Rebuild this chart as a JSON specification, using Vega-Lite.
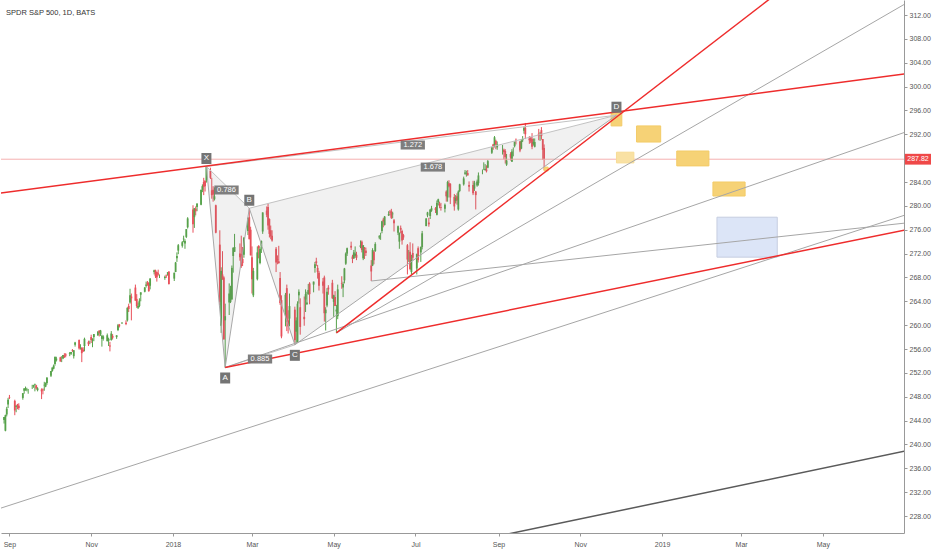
{
"$schema": "https://vega.github.io/schema/vega-lite/v6.json",
"width": 932, "height": 550,
"autosize": {"type": "fit", "contains": "padding"},
"padding": {"left": 0, "top": 0, "right": 0, "bottom": 3},
"background": "#ffffff",
"config": {"view": {"stroke": null}, "font": "Liberation Sans", "axis": {"grid": false, "labelFont": "Liberation Sans", "labelFontSize": 7, "labelColor": "#555555", "tickSize": 3, "tickColor": "#999999", "domainColor": "#999999", "labelOverlap": false, "labelBound": false}},
"title": {"text": "SPDR S&P 500, 1D, BATS", "anchor": "start", "frame": "group", "offset": -12, "dy": 8, "baseline": "middle", "dx": 5, "fontSize": 7.5, "fontWeight": "normal", "color": "#333333", "font": "Liberation Sans"},
"datasets": {
"candles": [
{"t":"2017-08-28","o":244.1,"h":244.6,"l":243.5,"c":244.6},
{"t":"2017-08-29","o":242.3,"h":245.0,"l":242.2,"c":244.9},
{"t":"2017-08-30","o":245.0,"h":246.3,"l":244.7,"c":246.0},
{"t":"2017-08-31","o":246.7,"h":247.8,"l":246.1,"c":247.5},
{"t":"2017-09-01","o":247.9,"h":248.3,"l":247.6,"c":247.8},
{"t":"2017-09-05","o":247.3,"h":247.5,"l":244.9,"c":245.7},
{"t":"2017-09-06","o":246.3,"h":246.6,"l":245.4,"c":246.5},
{"t":"2017-09-07","o":246.7,"h":246.8,"l":245.9,"c":246.5},
{"t":"2017-09-08","o":246.5,"h":246.9,"l":245.8,"c":246.1},
{"t":"2017-09-11","o":247.8,"h":248.6,"l":247.5,"c":248.6},
{"t":"2017-09-12","o":249.0,"h":249.4,"l":248.5,"c":249.4},
{"t":"2017-09-13","o":249.2,"h":249.7,"l":249.0,"c":249.4},
{"t":"2017-09-14","o":249.1,"h":249.5,"l":248.9,"c":249.2},
{"t":"2017-09-15","o":249.2,"h":249.3,"l":248.5,"c":249.2},
{"t":"2017-09-18","o":249.6,"h":250.0,"l":249.3,"c":249.6},
{"t":"2017-09-19","o":249.8,"h":250.0,"l":249.5,"c":249.9},
{"t":"2017-09-20","o":250.0,"h":250.2,"l":248.9,"c":250.1},
{"t":"2017-09-21","o":249.9,"h":250.0,"l":249.2,"c":249.4},
{"t":"2017-09-22","o":249.1,"h":249.6,"l":248.9,"c":249.4},
{"t":"2017-09-25","o":249.2,"h":249.4,"l":247.6,"c":248.9},
{"t":"2017-09-26","o":249.2,"h":249.4,"l":248.4,"c":249.1},
{"t":"2017-09-27","o":249.9,"h":250.5,"l":249.0,"c":250.0},
{"t":"2017-09-28","o":249.7,"h":250.4,"l":249.6,"c":250.3},
{"t":"2017-09-29","o":250.3,"h":251.3,"l":250.0,"c":251.2},
{"t":"2017-10-02","o":251.5,"h":252.3,"l":251.3,"c":252.3},
{"t":"2017-10-03","o":252.3,"h":252.9,"l":252.2,"c":252.9},
{"t":"2017-10-04","o":252.7,"h":253.4,"l":252.6,"c":253.2},
{"t":"2017-10-05","o":253.5,"h":254.7,"l":253.2,"c":254.7},
{"t":"2017-10-06","o":254.1,"h":254.7,"l":253.9,"c":254.4},
{"t":"2017-10-09","o":254.6,"h":254.7,"l":253.9,"c":253.9},
{"t":"2017-10-10","o":254.6,"h":254.8,"l":253.8,"c":254.6},
{"t":"2017-10-11","o":254.4,"h":255.0,"l":254.3,"c":255.0},
{"t":"2017-10-12","o":254.9,"h":255.3,"l":254.5,"c":254.6},
{"t":"2017-10-13","o":255.1,"h":255.3,"l":254.6,"c":254.9},
{"t":"2017-10-16","o":255.2,"h":255.5,"l":254.8,"c":255.3},
{"t":"2017-10-17","o":255.2,"h":255.5,"l":255.0,"c":255.5},
{"t":"2017-10-18","o":255.8,"h":256.0,"l":255.5,"c":255.7},
{"t":"2017-10-19","o":254.8,"h":255.8,"l":254.4,"c":255.8},
{"t":"2017-10-20","o":256.7,"h":257.2,"l":256.4,"c":257.1},
{"t":"2017-10-23","o":257.5,"h":257.6,"l":255.9,"c":256.1},
{"t":"2017-10-24","o":256.6,"h":256.8,"l":255.9,"c":256.6},
{"t":"2017-10-25","o":256.2,"h":256.3,"l":253.8,"c":255.3},
{"t":"2017-10-26","o":255.9,"h":256.3,"l":255.5,"c":255.6},
{"t":"2017-10-27","o":256.5,"h":257.9,"l":255.6,"c":257.7},
{"t":"2017-10-30","o":257.2,"h":257.4,"l":256.5,"c":256.8},
{"t":"2017-10-31","o":257.2,"h":257.4,"l":256.8,"c":257.2},
{"t":"2017-11-01","o":258.0,"h":258.4,"l":257.0,"c":257.5},
{"t":"2017-11-02","o":257.4,"h":257.8,"l":256.3,"c":257.6},
{"t":"2017-11-03","o":258.0,"h":258.5,"l":257.3,"c":258.5},
{"t":"2017-11-06","o":258.3,"h":259.0,"l":258.2,"c":258.9},
{"t":"2017-11-07","o":259.1,"h":259.1,"l":258.1,"c":258.7},
{"t":"2017-11-08","o":258.5,"h":259.2,"l":258.2,"c":259.1},
{"t":"2017-11-09","o":257.7,"h":258.4,"l":256.4,"c":258.2},
{"t":"2017-11-10","o":257.7,"h":258.3,"l":257.4,"c":258.1},
{"t":"2017-11-13","o":257.3,"h":258.6,"l":257.3,"c":258.3},
{"t":"2017-11-14","o":257.4,"h":257.9,"l":256.5,"c":257.7},
{"t":"2017-11-15","o":256.6,"h":257.2,"l":255.6,"c":256.4},
{"t":"2017-11-16","o":257.5,"h":259.0,"l":257.4,"c":258.6},
{"t":"2017-11-17","o":258.2,"h":258.5,"l":257.6,"c":257.9},
{"t":"2017-11-20","o":258.0,"h":258.3,"l":257.7,"c":258.3},
{"t":"2017-11-21","o":259.2,"h":260.2,"l":259.0,"c":260.0},
{"t":"2017-11-22","o":260.1,"h":260.2,"l":259.6,"c":259.8},
{"t":"2017-11-24","o":260.3,"h":260.5,"l":260.2,"c":260.4},
{"t":"2017-11-27","o":260.4,"h":260.8,"l":260.0,"c":260.2},
{"t":"2017-11-28","o":260.8,"h":263.0,"l":260.6,"c":262.9},
{"t":"2017-11-29","o":263.2,"h":263.6,"l":262.2,"c":262.7},
{"t":"2017-11-30","o":263.8,"h":266.1,"l":263.6,"c":265.0},
{"t":"2017-12-01","o":264.8,"h":265.3,"l":260.8,"c":264.5},
{"t":"2017-12-04","o":266.3,"h":266.8,"l":264.1,"c":264.1},
{"t":"2017-12-05","o":264.4,"h":265.2,"l":262.9,"c":263.2},
{"t":"2017-12-06","o":262.9,"h":263.8,"l":262.7,"c":263.2},
{"t":"2017-12-07","o":263.2,"h":264.5,"l":263.0,"c":264.1},
{"t":"2017-12-08","o":265.1,"h":265.5,"l":264.0,"c":265.5},
{"t":"2017-12-11","o":265.6,"h":266.4,"l":265.5,"c":266.3},
{"t":"2017-12-12","o":266.6,"h":267.3,"l":266.3,"c":266.8},
{"t":"2017-12-13","o":267.1,"h":267.4,"l":266.6,"c":266.8},
{"t":"2017-12-14","o":267.1,"h":267.2,"l":265.6,"c":265.7},
{"t":"2017-12-15","o":266.6,"h":267.9,"l":266.0,"c":267.8},
{"t":"2017-12-18","o":268.9,"h":269.3,"l":268.5,"c":269.2},
{"t":"2017-12-19","o":269.2,"h":269.3,"l":267.9,"c":268.2},
{"t":"2017-12-20","o":268.9,"h":269.0,"l":267.3,"c":268.0},
{"t":"2017-12-21","o":268.7,"h":269.3,"l":268.3,"c":268.5},
{"t":"2017-12-22","o":268.4,"h":268.5,"l":267.9,"c":268.4},
{"t":"2017-12-26","o":267.9,"h":268.3,"l":267.6,"c":268.1},
{"t":"2017-12-27","o":268.3,"h":268.5,"l":267.9,"c":268.2},
{"t":"2017-12-28","o":268.7,"h":268.9,"l":268.3,"c":268.8},
{"t":"2017-12-29","o":269.0,"h":269.0,"l":266.8,"c":266.9},
{"t":"2018-01-02","o":267.8,"h":268.8,"l":267.4,"c":268.8},
{"t":"2018-01-03","o":268.9,"h":270.6,"l":268.9,"c":270.5},
{"t":"2018-01-04","o":271.2,"h":272.2,"l":270.6,"c":271.6},
{"t":"2018-01-05","o":272.5,"h":273.6,"l":271.9,"c":273.4},
{"t":"2018-01-08","o":273.3,"h":274.1,"l":273.0,"c":273.9},
{"t":"2018-01-09","o":274.4,"h":275.0,"l":273.9,"c":274.5},
{"t":"2018-01-10","o":273.7,"h":274.4,"l":272.8,"c":274.1},
{"t":"2018-01-11","o":274.8,"h":276.1,"l":274.6,"c":276.1},
{"t":"2018-01-12","o":276.4,"h":278.1,"l":276.2,"c":277.9},
{"t":"2018-01-16","o":279.4,"h":280.1,"l":275.5,"c":276.9},
{"t":"2018-01-17","o":278.1,"h":279.6,"l":276.3,"c":279.6},
{"t":"2018-01-18","o":279.5,"h":279.9,"l":278.4,"c":279.1},
{"t":"2018-01-19","o":279.8,"h":280.4,"l":279.1,"c":280.4},
{"t":"2018-01-22","o":280.2,"h":282.7,"l":280.1,"c":282.7},
{"t":"2018-01-23","o":282.7,"h":283.6,"l":282.3,"c":283.3},
{"t":"2018-01-24","o":284.0,"h":284.7,"l":281.8,"c":283.2},
{"t":"2018-01-25","o":284.2,"h":284.3,"l":282.4,"c":283.3},
{"t":"2018-01-26","o":284.3,"h":286.6,"l":283.9,"c":286.6},
{"t":"2018-01-29","o":285.9,"h":286.4,"l":284.5,"c":284.7},
{"t":"2018-01-30","o":282.6,"h":284.7,"l":281.2,"c":281.8},
{"t":"2018-01-31","o":282.7,"h":283.3,"l":280.7,"c":281.9},
{"t":"2018-02-01","o":281.1,"h":283.1,"l":280.9,"c":281.6},
{"t":"2018-02-02","o":280.1,"h":280.2,"l":275.4,"c":275.5},
{"t":"2018-02-05","o":273.5,"h":275.9,"l":263.3,"c":263.9},
{"t":"2018-02-06","o":259.9,"h":269.7,"l":258.7,"c":269.1},
{"t":"2018-02-07","o":268.5,"h":272.4,"l":267.6,"c":267.7},
{"t":"2018-02-08","o":268.0,"h":268.2,"l":257.6,"c":257.6},
{"t":"2018-02-09","o":260.8,"h":263.6,"l":252.9,"c":261.5},
{"t":"2018-02-12","o":263.8,"h":267.0,"l":261.7,"c":265.3},
{"t":"2018-02-13","o":263.9,"h":266.6,"l":263.7,"c":266.0},
{"t":"2018-02-14","o":264.3,"h":270.0,"l":264.3,"c":269.6},
{"t":"2018-02-15","o":271.6,"h":273.0,"l":268.8,"c":273.0},
{"t":"2018-02-16","o":272.3,"h":275.3,"l":272.3,"c":273.1},
{"t":"2018-02-20","o":272.0,"h":273.7,"l":270.8,"c":271.4},
{"t":"2018-02-21","o":271.9,"h":275.0,"l":269.6,"c":269.9},
{"t":"2018-02-22","o":271.1,"h":273.1,"l":269.9,"c":270.4},
{"t":"2018-02-23","o":271.8,"h":274.7,"l":271.3,"c":274.7},
{"t":"2018-02-26","o":275.8,"h":278.0,"l":275.1,"c":278.0},
{"t":"2018-02-27","o":278.1,"h":279.6,"l":274.4,"c":274.4},
{"t":"2018-02-28","o":276.0,"h":276.5,"l":271.7,"c":271.7},
{"t":"2018-03-01","o":271.4,"h":273.2,"l":265.3,"c":267.7},
{"t":"2018-03-02","o":265.0,"h":269.6,"l":264.7,"c":269.1},
{"t":"2018-03-05","o":267.7,"h":273.2,"l":267.5,"c":272.2},
{"t":"2018-03-06","o":273.3,"h":273.4,"l":271.2,"c":272.9},
{"t":"2018-03-07","o":270.4,"h":273.2,"l":270.2,"c":272.8},
{"t":"2018-03-08","o":273.3,"h":274.2,"l":272.1,"c":274.1},
{"t":"2018-03-09","o":275.7,"h":278.9,"l":275.3,"c":278.9},
{"t":"2018-03-12","o":279.2,"h":279.9,"l":278.1,"c":278.5},
{"t":"2018-03-13","o":279.8,"h":280.4,"l":276.0,"c":276.7},
{"t":"2018-03-14","o":277.8,"h":277.9,"l":274.7,"c":275.3},
{"t":"2018-03-15","o":275.9,"h":276.7,"l":274.4,"c":274.9},
{"t":"2018-03-16","o":275.0,"h":275.9,"l":274.0,"c":274.2},
{"t":"2018-03-19","o":272.8,"h":273.1,"l":268.9,"c":270.5},
{"t":"2018-03-20","o":271.1,"h":271.7,"l":270.2,"c":270.9},
{"t":"2018-03-21","o":270.7,"h":273.3,"l":270.3,"c":270.4},
{"t":"2018-03-22","o":267.9,"h":268.9,"l":263.4,"c":263.7},
{"t":"2018-03-23","o":264.2,"h":265.0,"l":257.8,"c":258.1},
{"t":"2018-03-26","o":262.1,"h":265.4,"l":259.8,"c":265.1},
{"t":"2018-03-27","o":266.2,"h":266.8,"l":259.0,"c":260.6},
{"t":"2018-03-28","o":260.8,"h":262.5,"l":258.6,"c":259.8},
{"t":"2018-03-29","o":261.1,"h":265.3,"l":259.8,"c":263.2},
{"t":"2018-04-02","o":262.6,"h":263.1,"l":256.7,"c":257.5},
{"t":"2018-04-03","o":258.9,"h":261.3,"l":256.9,"c":260.8},
{"t":"2018-04-04","o":257.2,"h":264.0,"l":257.0,"c":263.6},
{"t":"2018-04-05","o":265.0,"h":266.0,"l":263.6,"c":265.6},
{"t":"2018-04-06","o":263.0,"h":264.5,"l":258.4,"c":259.7},
{"t":"2018-04-09","o":261.4,"h":264.8,"l":259.9,"c":261.0},
{"t":"2018-04-10","o":264.3,"h":266.0,"l":262.2,"c":265.2},
{"t":"2018-04-11","o":263.5,"h":265.6,"l":263.4,"c":263.8},
{"t":"2018-04-12","o":265.2,"h":266.9,"l":265.1,"c":265.9},
{"t":"2018-04-13","o":267.0,"h":267.2,"l":263.5,"c":265.2},
{"t":"2018-04-16","o":266.8,"h":267.3,"l":265.5,"c":267.3},
{"t":"2018-04-17","o":269.6,"h":270.6,"l":268.8,"c":270.2},
{"t":"2018-04-18","o":270.7,"h":271.3,"l":269.9,"c":270.4},
{"t":"2018-04-19","o":269.6,"h":270.1,"l":267.8,"c":268.9},
{"t":"2018-04-20","o":268.8,"h":269.1,"l":265.8,"c":266.6},
{"t":"2018-04-23","o":267.3,"h":267.9,"l":265.3,"c":266.6},
{"t":"2018-04-24","o":268.0,"h":268.3,"l":260.6,"c":262.0},
{"t":"2018-04-25","o":262.0,"h":263.0,"l":259.1,"c":262.6},
{"t":"2018-04-26","o":263.3,"h":266.2,"l":263.0,"c":265.6},
{"t":"2018-04-27","o":266.3,"h":266.7,"l":265.1,"c":266.0},
{"t":"2018-04-30","o":267.1,"h":267.6,"l":264.4,"c":264.5},
{"t":"2018-05-01","o":263.9,"h":265.1,"l":261.4,"c":265.0},
{"t":"2018-05-02","o":264.7,"h":265.7,"l":263.2,"c":263.2},
{"t":"2018-05-03","o":262.3,"h":263.4,"l":258.7,"c":262.6},
{"t":"2018-05-04","o":261.5,"h":266.8,"l":261.0,"c":266.0},
{"t":"2018-05-07","o":267.0,"h":268.2,"l":266.1,"c":266.9},
{"t":"2018-05-08","o":266.3,"h":267.3,"l":264.7,"c":266.9},
{"t":"2018-05-09","o":267.5,"h":269.6,"l":267.0,"c":269.5},
{"t":"2018-05-10","o":270.3,"h":272.2,"l":270.1,"c":272.0},
{"t":"2018-05-11","o":272.0,"h":273.0,"l":271.6,"c":272.9},
{"t":"2018-05-14","o":273.3,"h":274.0,"l":272.6,"c":273.0},
{"t":"2018-05-15","o":271.5,"h":271.8,"l":270.4,"c":271.1},
{"t":"2018-05-16","o":271.2,"h":272.6,"l":271.1,"c":272.2},
{"t":"2018-05-17","o":271.6,"h":273.2,"l":271.3,"c":272.0},
{"t":"2018-05-18","o":271.8,"h":272.3,"l":270.9,"c":271.3},
{"t":"2018-05-21","o":273.1,"h":274.2,"l":272.9,"c":273.4},
{"t":"2018-05-22","o":274.0,"h":274.2,"l":272.2,"c":272.6},
{"t":"2018-05-23","o":271.2,"h":273.4,"l":270.9,"c":273.4},
{"t":"2018-05-24","o":273.0,"h":273.1,"l":271.1,"c":272.8},
{"t":"2018-05-25","o":272.5,"h":273.0,"l":271.6,"c":272.1},
{"t":"2018-05-29","o":270.0,"h":270.9,"l":267.4,"c":269.0},
{"t":"2018-05-30","o":270.0,"h":272.9,"l":269.9,"c":272.6},
{"t":"2018-05-31","o":272.3,"h":272.5,"l":270.2,"c":270.9},
{"t":"2018-06-01","o":272.4,"h":273.9,"l":272.3,"c":273.6},
{"t":"2018-06-04","o":274.7,"h":275.1,"l":274.4,"c":274.9},
{"t":"2018-06-05","o":275.1,"h":275.5,"l":274.3,"c":275.1},
{"t":"2018-06-06","o":275.8,"h":277.5,"l":275.4,"c":277.4},
{"t":"2018-06-07","o":277.7,"h":278.0,"l":276.4,"c":277.4},
{"t":"2018-06-08","o":276.8,"h":278.3,"l":276.7,"c":278.2},
{"t":"2018-06-11","o":278.4,"h":279.1,"l":278.3,"c":278.6},
{"t":"2018-06-12","o":279.0,"h":279.3,"l":278.4,"c":278.9},
{"t":"2018-06-13","o":279.1,"h":279.5,"l":277.8,"c":278.0},
{"t":"2018-06-14","o":278.6,"h":279.0,"l":277.9,"c":278.7},
{"t":"2018-06-15","o":277.6,"h":277.8,"l":275.7,"c":277.1},
{"t":"2018-06-18","o":275.5,"h":276.7,"l":275.1,"c":276.6},
{"t":"2018-06-19","o":274.0,"h":275.5,"l":272.8,"c":275.5},
{"t":"2018-06-20","o":276.3,"h":276.7,"l":275.4,"c":276.0},
{"t":"2018-06-21","o":275.8,"h":276.0,"l":273.5,"c":274.2},
{"t":"2018-06-22","o":275.1,"h":275.3,"l":274.3,"c":274.7},
{"t":"2018-06-25","o":273.4,"h":273.6,"l":268.5,"c":271.0},
{"t":"2018-06-26","o":271.6,"h":272.6,"l":270.6,"c":271.6},
{"t":"2018-06-27","o":272.3,"h":273.9,"l":269.2,"c":269.4},
{"t":"2018-06-28","o":268.9,"h":271.8,"l":268.5,"c":270.9},
{"t":"2018-06-29","o":272.1,"h":273.7,"l":270.9,"c":271.3},
{"t":"2018-07-02","o":269.5,"h":272.0,"l":268.5,"c":271.9},
{"t":"2018-07-03","o":272.9,"h":273.2,"l":270.5,"c":270.9},
{"t":"2018-07-05","o":272.2,"h":273.2,"l":270.6,"c":273.1},
{"t":"2018-07-06","o":273.1,"h":275.8,"l":272.7,"c":275.4},
{"t":"2018-07-09","o":276.6,"h":277.9,"l":276.6,"c":277.9},
{"t":"2018-07-10","o":278.4,"h":279.0,"l":278.1,"c":278.9},
{"t":"2018-07-11","o":277.2,"h":278.0,"l":276.5,"c":276.9},
{"t":"2018-07-12","o":278.3,"h":279.4,"l":277.8,"c":279.4},
{"t":"2018-07-13","o":279.2,"h":280.0,"l":279.0,"c":279.6},
{"t":"2018-07-16","o":279.6,"h":279.8,"l":278.8,"c":279.3},
{"t":"2018-07-17","o":278.5,"h":280.9,"l":278.4,"c":280.5},
{"t":"2018-07-18","o":280.6,"h":281.2,"l":280.1,"c":281.1},
{"t":"2018-07-19","o":280.3,"h":280.7,"l":279.6,"c":280.0},
{"t":"2018-07-20","o":279.8,"h":280.5,"l":279.2,"c":279.7},
{"t":"2018-07-23","o":279.5,"h":280.4,"l":278.9,"c":280.2},
{"t":"2018-07-24","o":282.4,"h":282.6,"l":280.7,"c":281.6},
{"t":"2018-07-25","o":281.4,"h":284.2,"l":280.7,"c":284.0},
{"t":"2018-07-26","o":283.8,"h":284.3,"l":283.1,"c":283.3},
{"t":"2018-07-27","o":283.7,"h":283.8,"l":280.3,"c":281.4},
{"t":"2018-07-30","o":281.5,"h":282.0,"l":279.2,"c":279.9},
{"t":"2018-07-31","o":280.8,"h":281.8,"l":280.4,"c":281.3},
{"t":"2018-08-01","o":281.6,"h":282.1,"l":280.2,"c":280.9},
{"t":"2018-08-02","o":279.4,"h":282.6,"l":279.2,"c":282.4},
{"t":"2018-08-03","o":282.5,"h":283.7,"l":282.3,"c":283.6},
{"t":"2018-08-06","o":283.6,"h":284.9,"l":283.4,"c":284.6},
{"t":"2018-08-07","o":285.4,"h":286.0,"l":285.2,"c":285.6},
{"t":"2018-08-08","o":285.4,"h":285.9,"l":284.9,"c":285.5},
{"t":"2018-08-09","o":285.5,"h":286.0,"l":285.1,"c":285.1},
{"t":"2018-08-10","o":283.5,"h":284.1,"l":282.4,"c":283.2},
{"t":"2018-08-13","o":283.5,"h":284.2,"l":281.8,"c":282.1},
{"t":"2018-08-14","o":282.9,"h":284.2,"l":282.5,"c":283.9},
{"t":"2018-08-15","o":282.4,"h":282.5,"l":279.4,"c":281.8},
{"t":"2018-08-16","o":283.4,"h":284.4,"l":283.2,"c":284.1},
{"t":"2018-08-17","o":283.8,"h":285.6,"l":283.4,"c":285.1},
{"t":"2018-08-20","o":285.7,"h":286.1,"l":285.3,"c":285.7},
{"t":"2018-08-21","o":286.3,"h":287.3,"l":286.0,"c":286.3},
{"t":"2018-08-22","o":286.0,"h":287.0,"l":285.9,"c":286.2},
{"t":"2018-08-23","o":286.1,"h":286.8,"l":285.6,"c":285.8},
{"t":"2018-08-24","o":286.4,"h":287.7,"l":286.3,"c":287.5},
{"t":"2018-08-27","o":288.9,"h":289.9,"l":288.7,"c":289.8},
{"t":"2018-08-28","o":290.3,"h":290.4,"l":289.4,"c":289.9},
{"t":"2018-08-29","o":290.2,"h":291.7,"l":289.8,"c":291.5},
{"t":"2018-08-30","o":290.9,"h":291.1,"l":289.5,"c":290.3},
{"t":"2018-08-31","o":289.8,"h":290.8,"l":289.4,"c":290.3},
{"t":"2018-09-04","o":289.8,"h":290.2,"l":288.6,"c":289.8},
{"t":"2018-09-05","o":289.4,"h":289.6,"l":287.8,"c":289.0},
{"t":"2018-09-06","o":289.2,"h":289.5,"l":287.1,"c":288.2},
{"t":"2018-09-07","o":286.9,"h":288.7,"l":286.7,"c":287.6},
{"t":"2018-09-10","o":288.7,"h":289.0,"l":287.6,"c":288.1},
{"t":"2018-09-11","o":287.4,"h":289.5,"l":287.4,"c":289.1},
{"t":"2018-09-12","o":289.1,"h":289.8,"l":288.3,"c":289.1},
{"t":"2018-09-13","o":290.0,"h":290.7,"l":289.8,"c":290.8},
{"t":"2018-09-14","o":291.1,"h":291.3,"l":290.3,"c":290.9},
{"t":"2018-09-17","o":290.8,"h":290.9,"l":289.0,"c":289.3},
{"t":"2018-09-18","o":289.6,"h":291.2,"l":289.5,"c":290.9},
{"t":"2018-09-19","o":291.0,"h":291.7,"l":290.7,"c":291.2},
{"t":"2018-09-20","o":292.6,"h":293.3,"l":292.1,"c":293.1},
{"t":"2018-09-21","o":293.1,"h":293.9,"l":291.2,"c":292.0},
{"t":"2018-09-24","o":291.3,"h":291.7,"l":290.4,"c":291.0},
{"t":"2018-09-25","o":291.5,"h":291.6,"l":290.5,"c":290.8},
{"t":"2018-09-26","o":291.2,"h":292.2,"l":289.5,"c":289.9},
{"t":"2018-09-27","o":290.4,"h":291.3,"l":290.1,"c":290.7},
{"t":"2018-09-28","o":289.9,"h":291.3,"l":289.8,"c":290.7},
{"t":"2018-10-01","o":292.1,"h":292.9,"l":291.0,"c":291.7},
{"t":"2018-10-02","o":291.6,"h":292.4,"l":290.9,"c":291.6},
{"t":"2018-10-03","o":292.7,"h":293.2,"l":291.1,"c":291.7},
{"t":"2018-10-04","o":291.2,"h":291.2,"l":287.7,"c":289.4},
{"t":"2018-10-05","o":289.7,"h":290.3,"l":286.0,"c":287.8}
],
"last": [{"p": 287.82, "lbl": "287.82"}],
"redlines": [
{"t":"2017-08-01","p":281.42,"t2":"2019-08-01","p2":303.02},
{"t":"2018-05-03","p":258.7,"t2":"2019-04-14","p2":318.61},
{"t":"2018-02-09","p":252.9,"t2":"2019-08-01","p2":277.33}
],
"graylines": [
{"t":"2017-08-01","p":227.53,"t2":"2019-08-01","p2":280.69},
{"t":"2018-05-03","p":258.7,"t2":"2019-08-01","p2":317.84},
{"t":"2018-02-09","p":252.9,"t2":"2019-08-01","p2":294.73},
{"t":"2018-05-29","p":267.4,"t2":"2019-08-01","p2":277.86}
],
"darklines": [
{"t":"2018-08-01","p":223.2,"t2":"2019-08-01","p2":240.32}
],
"patlines": [
{"t":"2018-01-26","p":286.6,"t2":"2018-02-09","p2":252.9},
{"t":"2018-02-09","p":252.9,"t2":"2018-02-27","p2":279.6},
{"t":"2018-02-27","p":279.6,"t2":"2018-04-02","p2":256.7},
{"t":"2018-04-02","p":256.7,"t2":"2018-11-28","p2":295.2}
],
"patdiag": [
{"t":"2018-01-26","p":286.6,"t2":"2018-02-27","p2":279.6},
{"t":"2018-02-09","p":252.9,"t2":"2018-04-02","p2":256.7},
{"t":"2018-02-27","p":279.6,"t2":"2018-11-28","p2":295.2},
{"t":"2018-01-26","p":286.6,"t2":"2018-11-28","p2":295.2}
],
"tri": [
{"g":"XAB","i":1,"t":"2018-01-26","p":286.6},
{"g":"XAB","i":2,"t":"2018-02-09","p":252.9},
{"g":"XAB","i":3,"t":"2018-02-27","p":279.6},
{"g":"BCD","i":1,"t":"2018-02-27","p":279.6},
{"g":"BCD","i":2,"t":"2018-04-02","p":256.7},
{"g":"BCD","i":3,"t":"2018-11-28","p":295.2}
],
"zones": [
{"k":"o","t":"2018-11-24","t2":"2018-12-02","p":295.6,"p2":293.4},
{"k":"o","t":"2018-12-13","t2":"2018-12-31","p":293.4,"p2":290.7},
{"k":"o2","t":"2018-11-28","t2":"2018-12-11","p":289.0,"p2":287.2},
{"k":"o","t":"2019-01-12","t2":"2019-02-05","p":289.2,"p2":286.7},
{"k":"o","t":"2019-02-08","t2":"2019-03-04","p":284.0,"p2":281.65},
{"k":"b","t":"2019-02-11","t2":"2019-03-28","p":278.1,"p2":271.4},
{"k":"o","t":"2018-10-05","t2":"2018-10-08","p":286.5,"p2":285.85}
],
"letters": [
{"lbl":"X","side":"up","t":"2018-01-26","p":286.6},
{"lbl":"A","side":"down","t":"2018-02-09","p":252.9},
{"lbl":"B","side":"up","t":"2018-02-27","p":279.6},
{"lbl":"C","side":"down","t":"2018-04-02","p":256.7},
{"lbl":"D","side":"up","t":"2018-11-28","p":295.2}
],
"ratios": [
{"lbl":"0.786","t":"2018-02-10","p":282.66},
{"lbl":"0.885","t":"2018-03-07","p":254.32},
{"lbl":"1.272","t":"2018-06-29","p":290.2},
{"lbl":"1.678","t":"2018-07-14","p":286.5}
]
},
"layer": [
{"data": {"name": "candles"},
 "mark": {"type": "rule", "strokeWidth": 1},
 "encoding": {
  "x": {"field": "t", "type": "temporal", "title": null, "scale": {"type": "utc", "nice": false, "padding": 0, "domain": [{"year": 2017, "month": 8, "date": 25, "hours": 17, "utc": true}, {"year": 2019, "month": 6, "date": 30, "hours": 14, "utc": true}]},
        "axis": {"orient": "bottom", "title": null, "grid": false, "tickCount": {"interval": "month", "step": 2}, "labelExpr": "utcFormat(datum.value, '%m') == '01' ? utcFormat(datum.value, '%Y') : utcFormat(datum.value, '%b')", "labelPadding": 4, "labelFlush": false, "labelOverlap": false}},
  "y": {"field": "l", "type": "quantitative", "title": null, "scale": {"domain": [225.15, 314.515], "nice": false, "zero": false, "padding": 0},
        "axis": {"orient": "right", "title": null, "grid": false, "tickCount": 50, "values": [228, 232, 236, 240, 244, 248, 252, 256, 260, 264, 268, 272, 276, 280, 284, 292, 296, 300, 304, 308, 312], "format": ".2f", "labelPadding": 2, "labelOverlap": false}},
  "y2": {"field": "h"},
  "color": {"condition": {"test": "datum.c >= datum.o", "value": "#56a24a"}, "value": "#e9505a"}
 }},
{"data": {"name": "candles"},
 "mark": {"type": "bar", "size": 1.8},
 "encoding": {
  "x": {"field": "t", "type": "temporal"},
  "y": {"field": "o", "type": "quantitative"},
  "y2": {"field": "c"},
  "color": {"condition": {"test": "datum.c >= datum.o", "value": "#56a24a"}, "value": "#e9505a"}
 }},
{"data": {"name": "last"},
 "mark": {"type": "rule", "color": "#f5b0b0", "strokeWidth": 1},
 "encoding": {"y": {"field": "p", "type": "quantitative"}}},
{"data": {"name": "tri"},
 "mark": {"type": "line", "interpolate": "linear-closed", "fill": "#808080", "fillOpacity": 0.11, "strokeOpacity": 0},
 "encoding": {
  "x": {"field": "t", "type": "temporal"},
  "y": {"field": "p", "type": "quantitative"},
  "detail": {"field": "g"},
  "order": {"field": "i"}
 }},
{"data": {"name": "zones"},
 "mark": {"type": "rect", "strokeWidth": 1},
 "encoding": {
  "x": {"field": "t", "type": "temporal"},
  "x2": {"field": "t2"},
  "y": {"field": "p", "type": "quantitative"},
  "y2": {"field": "p2"},
  "fill": {"field": "k", "type": "nominal", "scale": {"domain": ["o", "o2", "b"], "range": ["#f6d276", "#f9e1a3", "#dce5f7"]}, "legend": null},
  "stroke": {"field": "k", "type": "nominal", "scale": {"domain": ["o", "o2", "b"], "range": ["#f3cb67", "#f7dc96", "#c6cde0"]}, "legend": null}
 }},
{"data": {"name": "patdiag"},
 "mark": {"type": "rule", "color": "#c2c2c2", "strokeWidth": 1},
 "encoding": {
  "x": {"field": "t", "type": "temporal"},
  "y": {"field": "p", "type": "quantitative"},
  "x2": {"field": "t2"}, "y2": {"field": "p2"}
 }},
{"data": {"name": "patlines"},
 "mark": {"type": "rule", "color": "#a8a8a8", "strokeWidth": 1},
 "encoding": {
  "x": {"field": "t", "type": "temporal"},
  "y": {"field": "p", "type": "quantitative"},
  "x2": {"field": "t2"}, "y2": {"field": "p2"}
 }},
{"data": {"name": "graylines"},
 "mark": {"type": "rule", "color": "#a6a6a6", "strokeWidth": 1, "clip": true},
 "encoding": {
  "x": {"field": "t", "type": "temporal"},
  "y": {"field": "p", "type": "quantitative"},
  "x2": {"field": "t2"}, "y2": {"field": "p2"}
 }},
{"data": {"name": "darklines"},
 "mark": {"type": "rule", "color": "#5a5a5a", "strokeWidth": 1.5, "clip": true},
 "encoding": {
  "x": {"field": "t", "type": "temporal"},
  "y": {"field": "p", "type": "quantitative"},
  "x2": {"field": "t2"}, "y2": {"field": "p2"}
 }},
{"data": {"name": "redlines"},
 "mark": {"type": "rule", "color": "#ee2c2c", "strokeWidth": 1.5, "clip": true},
 "encoding": {
  "x": {"field": "t", "type": "temporal"},
  "y": {"field": "p", "type": "quantitative"},
  "x2": {"field": "t2"}, "y2": {"field": "p2"}
 }},
{"data": {"name": "letters"},
 "transform": [{"filter": "datum.side == 'up'"}],
 "layer": [
  {"mark": {"type": "point", "shape": "M-1,-1.1L1,-1.1L1,1.1L-1,1.1Z", "size": 100, "filled": true, "color": "#747474", "opacity": 1, "yOffset": -8},
   "encoding": {"x": {"field": "t", "type": "temporal"}, "y": {"field": "p", "type": "quantitative"}}},
  {"mark": {"type": "text", "color": "#ffffff", "fontSize": 8, "baseline": "middle", "align": "center", "yOffset": -8},
   "encoding": {"x": {"field": "t", "type": "temporal"}, "y": {"field": "p", "type": "quantitative"}, "text": {"field": "lbl"}}}
 ]},
{"data": {"name": "letters"},
 "transform": [{"filter": "datum.side == 'down'"}],
 "layer": [
  {"mark": {"type": "point", "shape": "M-1,-1.1L1,-1.1L1,1.1L-1,1.1Z", "size": 100, "filled": true, "color": "#747474", "opacity": 1, "yOffset": 10.5},
   "encoding": {"x": {"field": "t", "type": "temporal"}, "y": {"field": "p", "type": "quantitative"}}},
  {"mark": {"type": "text", "color": "#ffffff", "fontSize": 8, "baseline": "middle", "align": "center", "yOffset": 10.5},
   "encoding": {"x": {"field": "t", "type": "temporal"}, "y": {"field": "p", "type": "quantitative"}, "text": {"field": "lbl"}}}
 ]},
{"data": {"name": "ratios"},
 "layer": [
  {"mark": {"type": "point", "shape": "M-2.7,-1L2.7,-1L2.7,1L-2.7,1Z", "size": 81, "filled": true, "color": "#777777", "opacity": 0.95},
   "encoding": {"x": {"field": "t", "type": "temporal"}, "y": {"field": "p", "type": "quantitative"}}},
  {"mark": {"type": "text", "color": "#ffffff", "fontSize": 7.5, "baseline": "middle", "align": "center"},
   "encoding": {"x": {"field": "t", "type": "temporal"}, "y": {"field": "p", "type": "quantitative"}, "text": {"field": "lbl"}}}
 ]},
{"data": {"name": "last"},
 "layer": [
  {"mark": {"type": "point", "shape": "M-1.45,-0.6L1.45,-0.6L1.45,0.6L-1.45,0.6Z", "size": 324, "filled": true, "color": "#ef4848", "opacity": 1, "clip": false},
   "encoding": {"x": {"datum": {"year": 2019, "month": 7, "date": 11, "utc": true}, "type": "temporal"}, "y": {"field": "p", "type": "quantitative"}}},
  {"mark": {"type": "text", "color": "#ffffff", "fontSize": 7, "baseline": "middle", "align": "center", "clip": false},
   "encoding": {"x": {"datum": {"year": 2019, "month": 7, "date": 11, "utc": true}, "type": "temporal"}, "y": {"field": "p", "type": "quantitative"}, "text": {"field": "lbl"}}}
 ]}
]
}
